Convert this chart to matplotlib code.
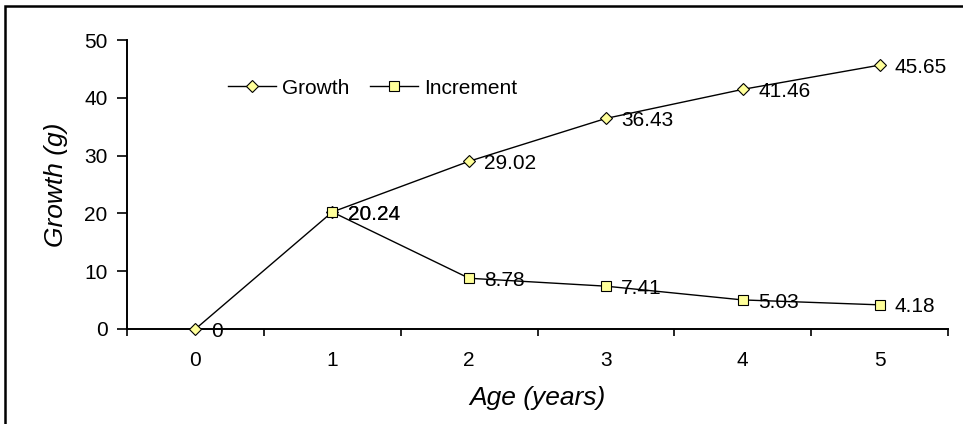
import matplotlib
matplotlib.use("Agg")
import matplotlib.pyplot as plt
from matplotlib.patches import Rectangle

plt.rcParams['font.family'] = ['Liberation Sans', 'DejaVu Sans']

ages = [0, 1, 2, 3, 4, 5]
growth = [0, 20.24, 29.02, 36.43, 41.46, 45.65]
inc_ages = [1, 2, 3, 4, 5]
increment = [20.24, 8.78, 7.41, 5.03, 4.18]
yticks = [0, 10, 20, 30, 40, 50]

W, H = 963, 424
fig = plt.figure(figsize=(W / 100, H / 100), dpi=100)
ax = fig.add_axes([127 / W, 1 - 329 / H, (948 - 127) / W, (329 - 40) / H])

fill = '#FFFF99'
ax.plot(ages, growth, color='black', lw=1.0, marker='D', markersize=6.5,
        markerfacecolor=fill, markeredgecolor='black', markeredgewidth=0.8,
        label='Growth', clip_on=False, zorder=3)
ax.plot(inc_ages, increment, color='black', lw=1.0, marker='s', markersize=7,
        markerfacecolor=fill, markeredgecolor='black', markeredgewidth=0.8,
        label='Increment', clip_on=False, zorder=4)

fs = 15
for x, y in zip(ages, growth):
    ax.annotate(f"{y:g}" if y == 0 else f"{y:.2f}", (x, y), xytext=(11, -1.5),
                textcoords='offset points', ha='left', va='center', fontsize=fs)
for x, y in zip(inc_ages, increment):
    ax.annotate(f"{y:.2f}", (x, y), xytext=(11, -1.5),
                textcoords='offset points', ha='left', va='center', fontsize=fs)

ax.set_xlim(-0.5, 5.5)
ax.set_ylim(0, 50)
ax.set_xticks(ages)
ax.set_xticklabels([str(a) for a in ages], fontsize=fs)
ax.set_xticks([i - 0.5 for i in range(7)], minor=True)
ax.tick_params(axis='x', which='major', length=0, pad=16)
ax.tick_params(axis='x', which='minor', length=5, width=1.2, direction='out')
ax.set_yticks(yticks)
ax.set_yticklabels([str(t) for t in yticks], fontsize=fs)
ax.tick_params(axis='y', length=7, width=1.2, direction='out', pad=7)

for s in ['top', 'right']:
    ax.spines[s].set_visible(False)
for s in ['left', 'bottom']:
    ax.spines[s].set_linewidth(1.4)

ax.set_xlabel('Age (years)', fontsize=19, style='italic', labelpad=11)
ax.set_ylabel('Growth (g)', fontsize=19, style='italic', labelpad=12)

leg = ax.legend(loc='center left', bbox_to_anchor=((228 - 127) / 821, (329 - 88) / 289),
                ncol=2, frameon=False, fontsize=fs, borderpad=0, borderaxespad=0,
                handlelength=2.3, handletextpad=0.3, columnspacing=1.0)

fig.patches.append(Rectangle((5 / W, -0.1), 1.2, 1 - 6 / H + 0.1, transform=fig.transFigure,
                             fill=False, edgecolor='black', linewidth=1.8))

fig.savefig('out.png', dpi=100)
